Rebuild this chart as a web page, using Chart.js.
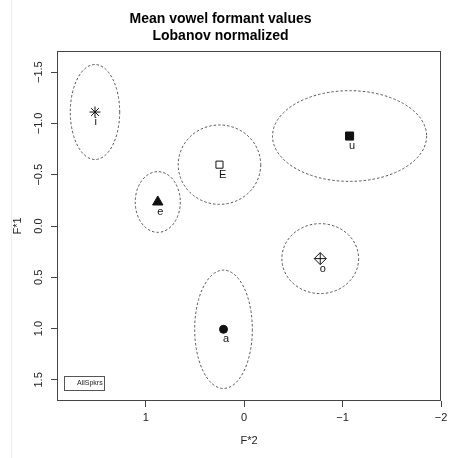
<!DOCTYPE html>
<html>
<head>
<meta charset="utf-8">
<script src="https://cdn.jsdelivr.net/npm/chart.js@4.4.0/dist/chart.umd.min.js"></script>
<style>
  html, body { margin: 0; padding: 0; background: #fff; }
</style>
</head>
<body>
<canvas id="c" width="453" height="458"></canvas>
<script>
'use strict';

// mean Lobanov-normalized formants per vowel
const VOWELS = ['i', 'E', 'e', 'u', 'o', 'a'];
const F2 = [1.516, 0.251, 0.878, -1.071, -0.773, 0.210];
const F1 = [-1.111, -0.598, -0.234, -0.877, 0.318, 1.007];
// half axes of each vowel's spread ellipse
const F2_SD = [0.251, 0.419, 0.229, 0.783, 0.390, 0.293];
const F1_SD = [0.463, 0.387, 0.296, 0.442, 0.341, 0.577];

const X_TICKS = [1, 0, -1, -2];
const Y_TICKS = [-1.5, -1.0, -0.5, 0.0, 0.5, 1.0, 1.5];
const SPEAKER = 'AllSpkrs';

const FONT = 'Liberation Sans, Arial, Helvetica, sans-serif';
const INK = '#111';
const NONE = 'rgba(0,0,0,0)';

// marker per vowel, roughly R's pch 8, 0, 17, 15, 9, 16
const MARKERS = ['star', 'rect', 'triangle', 'rect', 'rectRot', 'circle'];
const SIZES = [5.5, 5, 6, 5.7, 6, 4];
const FILLS = [NONE, '#fff', INK, INK, NONE, INK];

const minus = (v, d) => (v < 0 ? '\u2212' : '') + Math.abs(v).toFixed(d);

const ellipses = {
  id: 'ellipses',
  beforeDatasetsDraw(chart) {
    const {ctx, chartArea: a, scales: {x, y}} = chart;
    ctx.save();
    ctx.beginPath();
    ctx.rect(a.left, a.top, a.width, a.height);
    ctx.clip();
    ctx.setLineDash([2.5, 2]);
    ctx.lineWidth = 0.9;
    ctx.strokeStyle = '#444';
    VOWELS.forEach((v, i) => {
      const cx = x.getPixelForValue(F2[i]);
      const cy = y.getPixelForValue(F1[i]);
      const rx = Math.abs(x.getPixelForValue(F2[i] + F2_SD[i]) - cx);
      const ry = Math.abs(y.getPixelForValue(F1[i] + F1_SD[i]) - cy);
      ctx.beginPath();
      ctx.ellipse(cx, cy, rx, ry, 0, 0, Math.PI * 2);
      ctx.stroke();
    });
    ctx.restore();
  }
};

const frame = {
  id: 'frame',
  afterDraw(chart) {
    const {ctx, chartArea: a} = chart;
    ctx.save();
    // light rule down the left margin
    ctx.strokeStyle = '#ececec';
    ctx.lineWidth = 1;
    ctx.beginPath();
    ctx.moveTo(11.5, 0);
    ctx.lineTo(11.5, chart.height);
    ctx.stroke();

    ctx.strokeStyle = '#444';
    ctx.strokeRect(a.left + 0.5, a.top + 0.5, a.width - 1, a.height - 1);

    // speaker legend, bottom left inside the plot
    const bx = a.left + 7.5, by = a.bottom - 24.5;
    ctx.strokeStyle = '#555';
    ctx.strokeRect(bx, by, 40, 14);
    ctx.fillStyle = '#222';
    ctx.font = '7px ' + FONT;
    ctx.textBaseline = 'middle';
    ctx.textAlign = 'left';
    ctx.fillText(SPEAKER, bx + 12.5, by + 7);
    ctx.restore();
  }
};

const vowelLabels = {
  id: 'vowelLabels',
  afterDatasetsDraw(chart) {
    const {ctx, scales: {x, y}} = chart;
    ctx.save();
    ctx.fillStyle = INK;
    ctx.font = '11px ' + FONT;
    ctx.textAlign = 'left';
    ctx.textBaseline = 'middle';
    VOWELS.forEach((v, i) => {
      ctx.fillText(v, x.getPixelForValue(F2[i]) - 0.5, y.getPixelForValue(F1[i]) + 10);
    });
    ctx.restore();
  }
};

const oIdx = VOWELS.indexOf('o');

new Chart(document.getElementById('c'), {
  type: 'scatter',
  data: {
    datasets: [{
      data: VOWELS.map((v, i) => ({x: F2[i], y: F1[i]})),
      pointStyle: MARKERS,
      pointRadius: SIZES,
      pointBackgroundColor: FILLS,
      pointBorderColor: INK,
      pointBorderWidth: 1
    }, {
      // plus sign inside the o diamond
      data: [{x: F2[oIdx], y: F1[oIdx]}],
      pointStyle: 'cross',
      pointRadius: SIZES[oIdx],
      pointBorderColor: INK,
      pointBorderWidth: 1
    }]
  },
  options: {
    responsive: false,
    animation: false,
    events: [],
    layout: {padding: {left: 0, right: 12, top: 0, bottom: 0}},
    plugins: {
      legend: {display: false},
      tooltip: {enabled: false},
      title: {
        display: true,
        text: ['Mean vowel formant values', 'Lobanov normalized'],
        color: '#000',
        font: {family: FONT, size: 14, weight: 'bold', lineHeight: 17 / 14},
        padding: {top: 10.5, bottom: 6.5}
      }
    },
    scales: {
      x: {
        type: 'linear',
        reverse: true,
        min: -2,
        max: 1.902,
        afterBuildTicks: s => { s.ticks = X_TICKS.map(v => ({value: v})); },
        afterFit: s => { s.height = 57; },
        grid: {display: true, drawOnChartArea: false, drawTicks: true, tickLength: 6, color: '#444'},
        border: {display: false},
        ticks: {
          color: '#222',
          font: {family: FONT, size: 11},
          padding: 4,
          maxRotation: 0,
          callback: v => minus(v, 0)
        },
        title: {
          display: true,
          text: 'F*2',
          color: '#222',
          font: {family: FONT, size: 11},
          padding: {top: 0, bottom: 10.4}
        }
      },
      y: {
        type: 'linear',
        reverse: true,
        min: -1.706,
        max: 1.706,
        afterBuildTicks: s => { s.ticks = Y_TICKS.map(v => ({value: v})); },
        afterFit: s => { s.width = 57; },
        grid: {display: true, drawOnChartArea: false, drawTicks: true, tickLength: 6, color: '#444'},
        border: {display: false},
        ticks: {
          color: '#222',
          font: {family: FONT, size: 11},
          padding: 1.5,
          minRotation: 90,
          maxRotation: 90,
          crossAlign: 'center',
          callback: v => minus(v, 1)
        },
        title: {
          display: true,
          text: 'F*1',
          color: '#222',
          font: {family: FONT, size: 11},
          padding: {top: 11.4, bottom: 0}
        }
      }
    }
  },
  plugins: [ellipses, vowelLabels, frame]
});
</script>
</body>
</html>
